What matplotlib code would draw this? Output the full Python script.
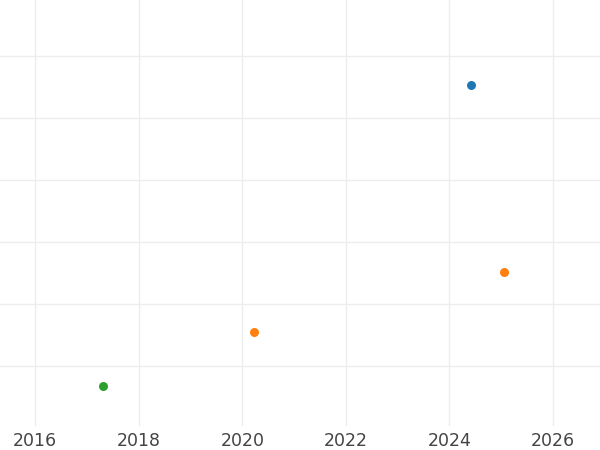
import matplotlib.pyplot as plt

# series (y axis has no labels, gridlines taken as 1..6)
blue_x = [2024.42]
blue_y = [5.53]
orange_x = [2020.23, 2025.05]
orange_y = [1.55, 2.52]
green_x = [2017.31]
green_y = [0.68]

xticks = [2016, 2018, 2020, 2022, 2024, 2026]
ygrid = [1, 2, 3, 4, 5, 6]

fig = plt.figure(figsize=(6, 4.5), dpi=100)
ax = fig.add_axes([0, 0.0533, 1, 0.9467])

ax.scatter(blue_x, blue_y, s=42, color="#1f77b4", zorder=3, linewidths=0)
ax.scatter(orange_x, orange_y, s=42, color="#ff7f0e", zorder=3, linewidths=0)
ax.scatter(green_x, green_y, s=42, color="#2ca02c", zorder=3, linewidths=0)

ax.set_xlim(2015.32, 2026.91)
ax.set_ylim(0.03, 6.9)
ax.set_xticks(xticks)
ax.set_xticklabels([str(t) for t in xticks])
ax.set_yticks(ygrid)
ax.set_yticklabels([])
ax.tick_params(length=0, labelsize=12.5, labelcolor="#444444", pad=4)
ax.grid(True, color="#ededed", linewidth=1.0)
ax.set_axisbelow(True)
for s in ax.spines.values():
    s.set_visible(False)

fig.savefig("out.png", dpi=100)
